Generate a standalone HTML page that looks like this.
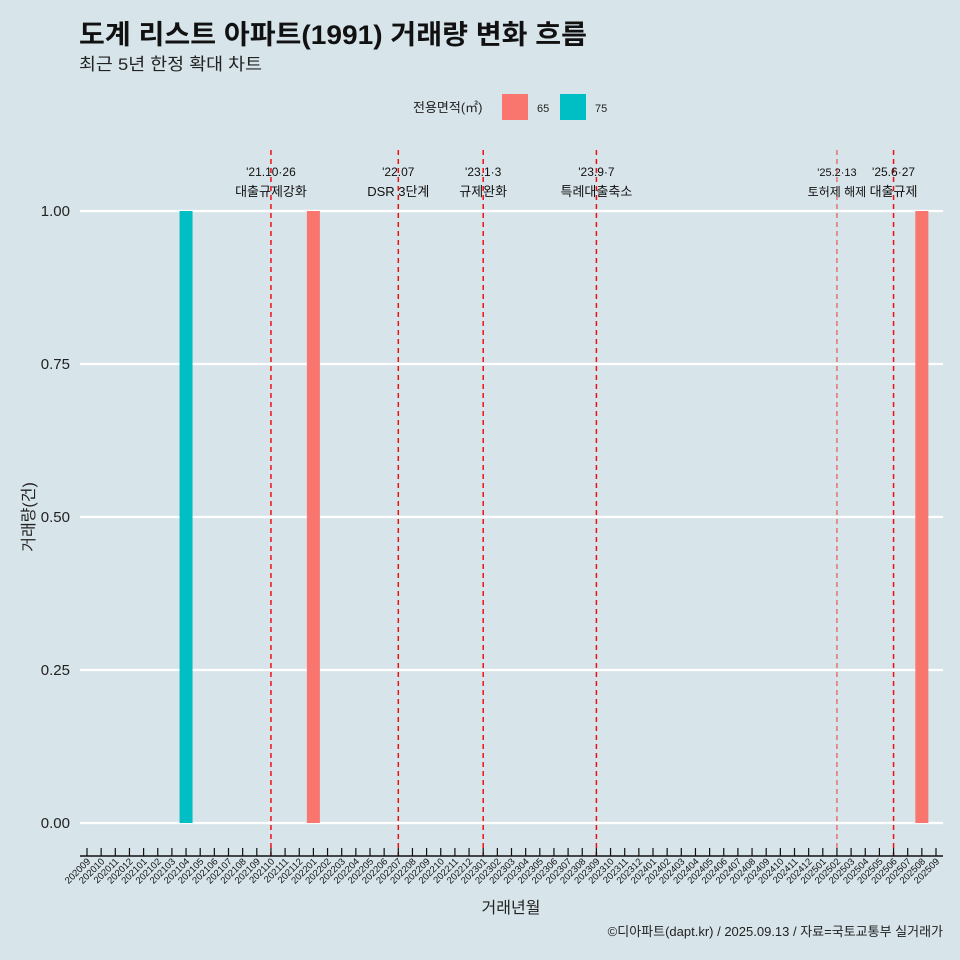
<!DOCTYPE html>
<html><head><meta charset="utf-8"><style>
body{margin:0;background:#d7e4ea;}
svg{display:block;font-family:"Liberation Sans","Noto Sans CJK KR",sans-serif;}
</style></head><body>
<svg id="chart" width="960" height="960" viewBox="0 0 960 960">
<rect width="960" height="960" fill="#d7e4ea"/>
<text x="79" y="44" font-size="27" font-weight="bold" fill="#111" textLength="508" lengthAdjust="spacingAndGlyphs">도계 리스트 아파트(1991) 거래량 변화 흐름</text>
<text x="79" y="70" font-size="17" fill="#222" textLength="183" lengthAdjust="spacingAndGlyphs">최근 5년 한정 확대 차트</text>
<g>
<text x="413" y="112" font-size="13" fill="#222">전용면적(㎡)</text>
<rect x="502" y="94" width="26" height="26" fill="#f8766d"/>
<text x="537" y="112" font-size="11" fill="#222">65</text>
<rect x="560" y="94" width="26" height="26" fill="#00bfc4"/>
<text x="595" y="112" font-size="11" fill="#222">75</text>
</g>
<g id="grid"></g><g id="yaxis"></g><g id="bars"></g><g id="vlines"></g><g id="xaxis"></g>
<text x="0" y="0" transform="translate(34,517) rotate(-90)" text-anchor="middle" font-size="16" fill="#222">거래량(건)</text>
<text x="511" y="913" text-anchor="middle" font-size="16" fill="#222">거래년월</text>
<text x="943" y="936" text-anchor="end" font-size="13" fill="#222">©디아파트(dapt.kr) / 2025.09.13 / 자료=국토교통부 실거래가</text>
</svg>
<script>
const months=[];for(let y=2020,m=9;!(y===2025&&m===10);){months.push(''+y+(m<10?'0':'')+m);m++;if(m>12){m=1;y++;}}
const barMonths=['202104','202201','202508'];
const barValues=[1,1,1];
const barGroups=['75','65','65'];
const yTicks=[0,0.25,0.5,0.75,1.0];
const yTickLabels=['0.00','0.25','0.50','0.75','1.00'];
const eventMonths=['202110','202207','202301','202309','202502','202506'];
const eventLine1=["'21.10·26","'22.07","'23.1·3","'23.9·7","'25.2·13","'25.6·27"];
const eventLine2=['대출규제강화','DSR 3단계','규제완화','특례대출축소','토허제 해제','대출규제'];
const colors={'65':'#f8766d','75':'#00bfc4'};
const NS='http://www.w3.org/2000/svg';
const X=m=>87+months.indexOf(m)*(849/60);
const Y=v=>823-v*612;
function mk(tag,attrs,parent,txt){const e=document.createElementNS(NS,tag);for(const k in attrs)e.setAttribute(k,attrs[k]);if(txt!==undefined)e.textContent=txt;document.getElementById(parent).appendChild(e);return e;}
yTicks.forEach((t,i)=>{
 const g=mk('line',{x1:80,x2:943,y1:Y(t),y2:Y(t),stroke:'#fff','stroke-width':2.2},'grid');
 
 
 const l=mk('text',{x:70,y:Y(t)+5,'text-anchor':'end','font-size':15,fill:'#222'},'yaxis',yTickLabels[i]);
 
 
});
barMonths.forEach((m,i)=>{
 const r=mk('rect',{x:X(m)-6.5,y:Y(barValues[i]),width:13,height:Y(0)-Y(barValues[i]),fill:colors[barGroups[i]]},'bars');
 
 
});
eventMonths.forEach((m,i)=>{
 const x=X(m);const thin=m==='202502';
 const l=mk('line',{x1:x,x2:x,y1:150,y2:856,stroke:'#ee1111','stroke-width':thin?1:1.5,'stroke-dasharray':'5,4',opacity:thin?0.8:1},'vlines');
 
 
 const fs=thin?11:12;
 const t1=mk('text',{x:x,y:176,'text-anchor':'middle','font-size':fs,fill:'#111'},'vlines',eventLine1[i]);
 
 
 const t2=mk('text',{x:x,y:196,'text-anchor':'middle','font-size':fs+1,fill:'#111'},'vlines',eventLine2[i]);
 
 
});
const ax=mk('line',{x1:80,x2:943,y1:856,y2:856,stroke:'#111','stroke-width':1.5},'xaxis');


months.forEach(m=>{
 const x=X(m);
 const t=mk('line',{x1:x,x2:x,y1:848,y2:856,stroke:'#111','stroke-width':1.2},'xaxis');
 
 
 const l=mk('text',{x:0,y:0,transform:`translate(${x+4},862) rotate(-45)`,'text-anchor':'end','font-size':9.5,fill:'#111'},'xaxis',m);
 
 
});
</script>
</body></html>
